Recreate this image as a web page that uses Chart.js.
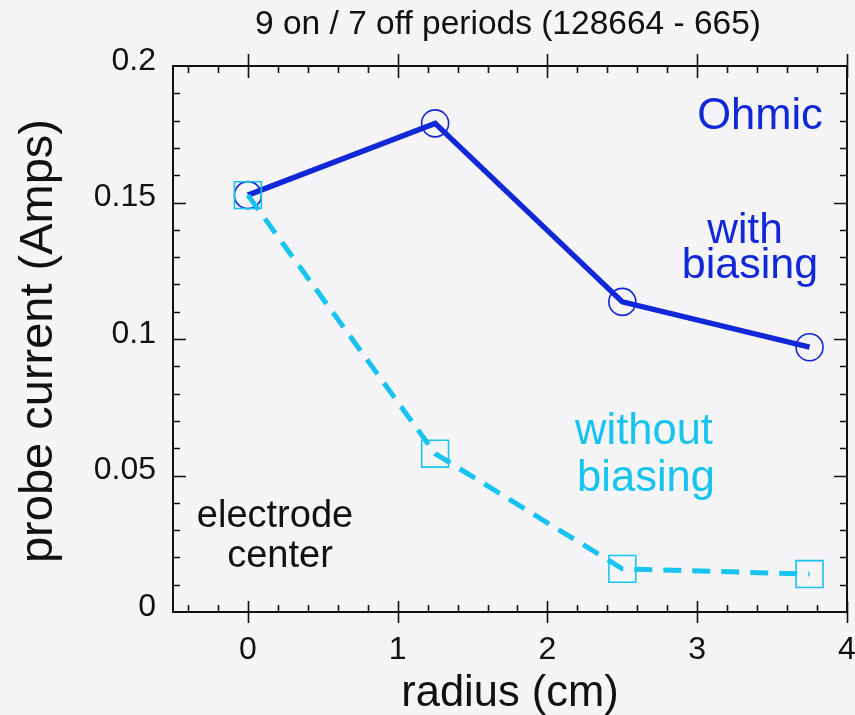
<!DOCTYPE html>
<html>
<head>
<meta charset="utf-8">
<script src="https://cdn.jsdelivr.net/npm/chart.js@4.4.1/dist/chart.umd.min.js"></script>
<style>
  html, body { margin: 0; padding: 0; background: #f5f5f7; }
  #wrap { width: 855px; height: 715px; }
</style>
</head>
<body>
<div id="wrap"><canvas id="c" width="855" height="715"></canvas></div>
<script>
// ---- data ----
const radius = [0, 1.25, 2.5, 3.75];
const ohmicWithBiasing = [0.1527, 0.179, 0.1136, 0.097];
const withoutBiasing = [0.1527, 0.058, 0.0158, 0.0139];
const xTickValues = [0, 1, 2, 3, 4];
const yTickValues = [0, 0.05, 0.1, 0.15, 0.2];
const xTickLabels = ['0', '1', '2', '3', '4'];
const yTickLabels = ['0', '0.05', '0.1', '0.15', '0.2'];

const BLUE = '#1128d8';
const CYAN = '#17c3f0';
const FONT = '"Liberation Sans", Arial, Helvetica, sans-serif';

const frame = {
  id: 'frame',
  beforeDraw(chart) {
    const ctx = chart.ctx;
    ctx.save();
    ctx.fillStyle = '#f5f5f7';
    ctx.fillRect(0, 0, chart.width, chart.height);
    ctx.restore();
  },
  afterDatasetsDraw(chart) {
    const ctx = chart.ctx;
    const a = chart.chartArea;
    const xs = chart.scales.x, ys = chart.scales.y;
    ctx.save();
    ctx.strokeStyle = '#111';
    ctx.lineWidth = 2;
    ctx.strokeRect(a.left, a.top, a.right - a.left, a.bottom - a.top);
    ctx.lineWidth = 1.6;
    ctx.beginPath();
    for (let i = Math.round(xs.min / 0.2); i <= Math.round(xs.max / 0.2); i++) {
      const v = i * 0.2;
      const px = Math.round(xs.getPixelForValue(v)) + 0.5;
      if (px <= a.left + 1) continue;
      const major = Math.abs(v - Math.round(v)) < 1e-6;
      if (major) {
        ctx.moveTo(px, a.bottom + 11); ctx.lineTo(px, a.bottom - 11);
        ctx.moveTo(px, a.top - 12); ctx.lineTo(px, a.top + 12);
      } else if (px < a.right - 1) {
        ctx.moveTo(px, a.bottom); ctx.lineTo(px, a.bottom - 7);
        ctx.moveTo(px, a.top); ctx.lineTo(px, a.top + 7);
      }
    }
    for (let i = 0; i <= 20; i++) {
      const v = i * 0.01;
      const py = Math.round(ys.getPixelForValue(v)) + 0.5;
      if (py >= a.bottom - 1 || py <= a.top + 1) continue;
      const major = i % 5 === 0;
      const L = major ? 13 : 7;
      ctx.moveTo(a.left, py); ctx.lineTo(a.left + L, py);
      ctx.moveTo(a.right, py); ctx.lineTo(a.right - L, py);
    }
    ctx.stroke();

    function txt(s, x, y, size, color, align) {
      ctx.font = size + 'px ' + FONT;
      ctx.fillStyle = color;
      ctx.textAlign = align || 'center';
      ctx.textBaseline = 'alphabetic';
      ctx.fillText(s, x, y);
    }
    txt('9 on / 7 off periods (128664 - 665)', 508, 34, 33.5, '#111');
    txt('radius (cm)', 510, 706, 43.5, '#111');
    ctx.save();
    ctx.translate(52, 341);
    ctx.rotate(-Math.PI / 2);
    txt('probe current (Amps)', 0, 0, 47, '#111');
    ctx.restore();

    txt('Ohmic', 760, 129, 43.5, BLUE);
    txt('with', 745, 243, 42.5, BLUE);
    txt('biasing', 750, 278, 43, BLUE);
    txt('without', 644, 444, 43.5, CYAN);
    txt('biasing', 646, 491, 43.5, CYAN);
    txt('electrode', 275, 527, 38, '#111');
    txt('center', 280, 567, 38, '#111');
    ctx.restore();
  }
};

new Chart(document.getElementById('c'), {
  type: 'line',
  data: {
    datasets: [
      {
        label: 'without biasing',
        data: radius.map((x, i) => ({ x, y: withoutBiasing[i] })),
        borderColor: CYAN,
        borderWidth: 5,
        borderDash: [18, 11],
        pointStyle: 'rect',
        pointRadius: 19,
        pointBorderColor: CYAN,
        pointBorderWidth: 1.6,
        pointBackgroundColor: 'rgba(0,0,0,0)',
        tension: 0,
        fill: false
      },
      {
        label: 'Ohmic with biasing',
        data: radius.map((x, i) => ({ x, y: ohmicWithBiasing[i] })),
        borderColor: BLUE,
        borderWidth: 5.5,
        pointStyle: 'circle',
        pointRadius: 13.5,
        pointBorderColor: BLUE,
        pointBorderWidth: 1.6,
        pointBackgroundColor: 'rgba(0,0,0,0)',
        tension: 0,
        fill: false
      }
    ]
  },
  options: {
    responsive: false,
    animation: false,
    layout: { autoPadding: false, padding: { top: 66, right: 8, left: 0, bottom: 0 } },
    plugins: { legend: { display: false }, title: { display: false }, tooltip: { enabled: false } },
    scales: {
      x: {
        type: 'linear',
        min: -0.5,
        max: 4,
        grid: { display: false, drawTicks: false },
        border: { display: false },
        afterFit(s) { s.height = 103; s.paddingLeft = 0; s.paddingRight = 0; },
        afterBuildTicks(s) { s.ticks = xTickValues.map(v => ({ value: v })); },
        ticks: {
          padding: 19,
          color: '#111',
          font: { family: FONT, size: 32 },
          callback(v) { const i = xTickValues.indexOf(v); return i >= 0 ? xTickLabels[i] : ''; }
        }
      },
      y: {
        type: 'linear',
        min: 0,
        max: 0.2,
        grid: { display: false, drawTicks: false },
        border: { display: false },
        afterFit(s) { s.width = 173; s.paddingTop = 0; s.paddingBottom = 0; },
        afterBuildTicks(s) { s.ticks = yTickValues.map(v => ({ value: v })); },
        ticks: {
          padding: 17,
          labelOffset: -5,
          color: '#111',
          font: { family: FONT, size: 32 },
          callback(v) {
            const i = yTickValues.findIndex(t => Math.abs(t - v) < 1e-9);
            return i >= 0 ? yTickLabels[i] : '';
          }
        }
      }
    }
  },
  plugins: [frame]
});
</script>
</body>
</html>
